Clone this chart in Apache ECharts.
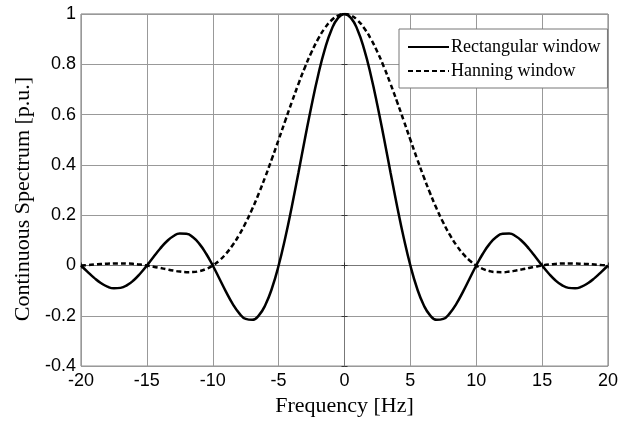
<!DOCTYPE html>
<html>
<head>
<meta charset="utf-8">
<script src="https://cdn.jsdelivr.net/npm/echarts@6/dist/echarts.min.js"></script>
<style>html,body{margin:0;padding:0;background:#fff}#c{width:632px;height:422px}</style>
</head>
<body>
<div id="c"></div>
<script>
const frequency = [-20,-19.5,-19,-18.5,-18,-17.5,-17,-16.5,-16,-15.5,-15,-14.5,-14,-13.5,-13,-12.5,-12,-11.5,-11,-10.5,-10,-9.5,-9,-8.5,-8,-7.5,-7,-6.5,-6,-5.5,-5,-4.5,-4,-3.5,-3,-2.5,-2,-1.5,-1,-0.5,0,0.5,1,1.5,2,2.5,3,3.5,4,4.5,5,5.5,6,6.5,7,7.5,8,8.5,9,9.5,10,10.5,11,11.5,12,12.5,13,13.5,14,14.5,15,15.5,16,16.5,17,17.5,18,18.5,19,19.5,20];
const rectangular = [0,-0.0252,-0.0492,-0.0696,-0.0841,-0.0909,-0.0890,-0.0780,-0.0585,-0.0317,0,0.0339,0.0668,0.0954,0.1164,0.1273,0.1261,0.1120,0.0850,0.0468,0,-0.0518,-0.1039,-0.1515,-0.1892,-0.2122,-0.2162,-0.1981,-0.1559,-0.0894,0,0.1093,0.2339,0.3679,0.5046,0.6366,0.7568,0.8584,0.9355,0.9836,1,0.9836,0.9355,0.8584,0.7568,0.6366,0.5046,0.3679,0.2339,0.1093,0,-0.0894,-0.1559,-0.1981,-0.2162,-0.2122,-0.1892,-0.1515,-0.1039,-0.0518,0,0.0468,0.0850,0.1120,0.1261,0.1273,0.1164,0.0954,0.0668,0.0339,0,-0.0317,-0.0585,-0.0780,-0.0890,-0.0909,-0.0841,-0.0696,-0.0492,-0.0252,0];
const hanning = [0,0.0018,0.0037,0.0055,0.0070,0.0081,0.0084,0.0079,0.0063,0.0037,0,-0.0046,-0.0098,-0.0152,-0.0202,-0.0242,-0.0265,-0.0261,-0.0221,-0.0137,0,0.0198,0.0464,0.0802,0.1213,0.1698,0.2252,0.2871,0.3543,0.4257,0.5,0.5753,0.6497,0.7214,0.7884,0.8488,0.9010,0.9433,0.9745,0.9935,1,0.9935,0.9745,0.9433,0.9010,0.8488,0.7884,0.7214,0.6497,0.5753,0.5,0.4257,0.3543,0.2871,0.2252,0.1698,0.1213,0.0802,0.0464,0.0198,0,-0.0137,-0.0221,-0.0261,-0.0265,-0.0242,-0.0202,-0.0152,-0.0098,-0.0046,0,0.0037,0.0063,0.0079,0.0084,0.0081,0.0070,0.0055,0.0037,0.0018,0];
const seriesNames = ['Rectangular window', 'Hanning window'];
const xTitle = 'Frequency [Hz]';
const yTitle = 'Continuous Spectrum [p.u.]';

const chart = echarts.init(document.getElementById('c'), null, {renderer: 'canvas'});
const pair = (ys) => frequency.map((x, i) => [x, ys[i]]);
const tickFont = {fontFamily: 'Liberation Sans', fontSize: 18, color: '#000'};
const nameFont = {fontFamily: 'Liberation Serif', fontSize: 22, color: '#000'};
const tickOnly = {
  axisLine: {show: false},
  axisTick: {show: true, inside: true, length: 3, lineStyle: {color: '#333'}},
  axisLabel: {show: false},
  splitLine: {show: false}
};
chart.setOption({
  animation: false,
  backgroundColor: '#fff',
  grid: {left: 81, right: 24, top: 14, bottom: 54, show: true, borderColor: '#777', borderWidth: 1},
  legend: {
    orient: 'vertical', left: 399, top: 29,
    padding: [9, 7, 8, 8], itemGap: 6, itemWidth: 41, itemHeight: 14,
    backgroundColor: '#fff', borderColor: '#777', borderWidth: 1, borderRadius: 0,
    itemStyle: {opacity: 0},
    textStyle: {fontFamily: 'Liberation Serif', fontSize: 18, color: '#000', lineHeight: 18, padding: [0, 0, 0, -3]},
    data: seriesNames
  },
  xAxis: [{
    type: 'value', min: -20, max: 20, interval: 5,
    name: xTitle, nameLocation: 'middle', nameGap: 16, nameTextStyle: nameFont,
    axisLine: {show: true, lineStyle: {color: '#777'}},
    axisTick: {show: true, inside: true, length: 3, lineStyle: {color: '#333'}},
    axisLabel: Object.assign({margin: 6}, tickFont),
    splitLine: {show: true, lineStyle: {color: '#999', width: 1}}
  }, Object.assign({type: 'value', position: 'top', min: -20, max: 20, interval: 5}, tickOnly)],
  yAxis: [{
    type: 'value', min: -0.4, max: 1, interval: 0.2,
    name: yTitle, nameLocation: 'middle', nameGap: 39,
    nameTextStyle: Object.assign({padding: [0, 18, 0, 0]}, nameFont),
    axisLine: {show: true, lineStyle: {color: '#777'}},
    axisTick: {show: true, inside: true, length: 3, lineStyle: {color: '#333'}},
    axisLabel: Object.assign({margin: 5, formatter: v => String(Number(v.toFixed(1)))}, tickFont),
    splitLine: {show: true, lineStyle: {color: '#999', width: 1}}
  }, Object.assign({type: 'value', position: 'right', min: -0.4, max: 1, interval: 0.2}, tickOnly)],
  series: [
    {name: seriesNames[0], type: 'line', data: pair(rectangular), symbol: 'none', smooth: true,
     lineStyle: {color: '#000', width: 2.5}, itemStyle: {color: '#000'}},
    {name: seriesNames[1], type: 'line', data: pair(hanning), symbol: 'none', smooth: true,
     lineStyle: {color: '#000', width: 2.5, type: [5, 3]}, itemStyle: {color: '#000'}}
  ]
});
</script>
</body>
</html>
